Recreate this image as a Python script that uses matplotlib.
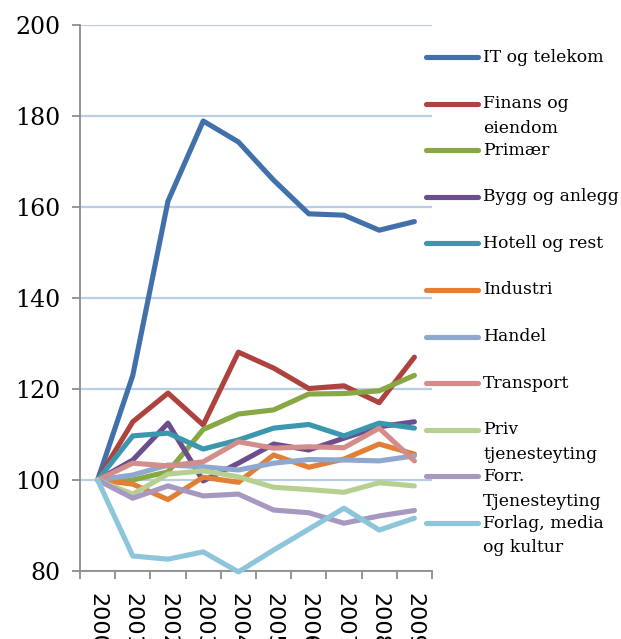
import matplotlib
matplotlib.use("Agg")
import matplotlib.pyplot as plt
from matplotlib.lines import Line2D

years = ["2000", "2001", "2002", "2003", "2004", "2005", "2006", "2007", "2008", "2009"]

it_telekom = [100, 123.0, 161.3, 178.9, 174.3, 165.9, 158.5, 158.2, 154.9, 156.8]
finans = [100, 112.8, 119.1, 112.1, 128.1, 124.6, 120.1, 120.7, 117.0, 127.0]
primaer = [100, 100.0, 101.8, 111.1, 114.5, 115.4, 118.9, 119.0, 119.6, 123.0]
bygg = [100, 104.4, 112.5, 99.8, 103.7, 107.9, 106.6, 109.2, 111.7, 112.8]
hotell = [100, 109.7, 110.3, 106.8, 108.8, 111.4, 112.2, 109.7, 112.5, 111.4]
industri = [100, 99.1, 95.7, 100.6, 99.5, 105.5, 102.8, 104.6, 107.9, 105.7]
handel = [100, 101.1, 103.3, 102.9, 102.2, 103.7, 104.5, 104.4, 104.2, 105.3]
transport = [100, 103.7, 103.1, 104.0, 108.4, 107.0, 107.3, 107.1, 111.4, 104.2]
priv = [100, 96.9, 101.3, 102.0, 100.7, 98.4, 97.9, 97.3, 99.4, 98.7]
forr = [100, 96.0, 98.7, 96.5, 96.9, 93.4, 92.8, 90.5, 92.1, 93.3]
forlag = [100, 83.3, 82.6, 84.2, 79.8, 84.6, 89.2, 93.8, 89.0, 91.6]

labels = ["IT og telekom", "Finans og\neiendom", "Primær", "Bygg og anlegg",
          "Hotell og rest", "Industri", "Handel", "Transport",
          "Priv\ntjenesteyting", "Forr.\nTjenesteyting", "Forlag, media\nog kultur"]
series = [it_telekom, finans, primaer, bygg, hotell, industri, handel,
          transport, priv, forr, forlag]
colors = ["#4170AB", "#AE423F", "#88A846", "#6C4E8F", "#3A97AE", "#E07F35",
          "#8FA8CF", "#D38D8B", "#B7CF90", "#A798C0", "#8DC6DA"]

yticks = [80, 100, 120, 140, 160, 180, 200]

fig = plt.figure(figsize=(6.21, 6.39), dpi=100)
ax = fig.add_axes([80/621, 1-571/639, 352/621, 546/639])

x = list(range(len(years)))
for k, (s, c) in enumerate(zip(series, colors)):
    ax.plot(x, s, color=c, lw=3.7, solid_joinstyle="round", solid_capstyle="round",
            clip_on=False, zorder=3 + k * 0.01)

ax.set_xlim(-0.5, len(years) - 0.5)
ax.set_ylim(80, 200)
ax.set_yticks(yticks)
ax.set_yticklabels([str(t) for t in yticks], fontsize=17, family="DejaVu Serif")
ax.yaxis.grid(True, color="#B9CDE5", lw=1.6, zorder=0)
ax.set_axisbelow(True)

ax.set_xticks(x)
ax.set_xticklabels(years, rotation=-90, fontsize=16, family="DejaVu Sans", va="top")
ax.set_xticks([i - 0.5 for i in range(len(years) + 1)], minor=True)
ax.tick_params(axis="x", which="major", length=0, pad=16)
ax.tick_params(axis="x", which="minor", length=6, color="#8C8C8C", width=1.3)
ax.tick_params(axis="y", length=6, color="#8C8C8C", width=1.3, pad=8)

for sp in ["top", "right"]:
    ax.spines[sp].set_visible(False)
for sp in ["left", "bottom"]:
    ax.spines[sp].set_color("#8C8C8C")
    ax.spines[sp].set_linewidth(1.3)

# manual legend
W, H = 621, 639
y0 = 57
dy = 46.6
for i, (lab, c) in enumerate(zip(labels, colors)):
    yp = y0 + i * dy
    fig.add_artist(Line2D([426/W, 478/W], [1 - yp/H, 1 - yp/H], color=c, lw=3.7,
                          solid_capstyle="round"))
    for j, line in enumerate(lab.split("\n")):
        fig.text(483/W, 1 - (yp + j * 25)/H, line, fontsize=12.4, family="DejaVu Serif",
                 va="center", ha="left")

fig.savefig("out.png", dpi=100)
